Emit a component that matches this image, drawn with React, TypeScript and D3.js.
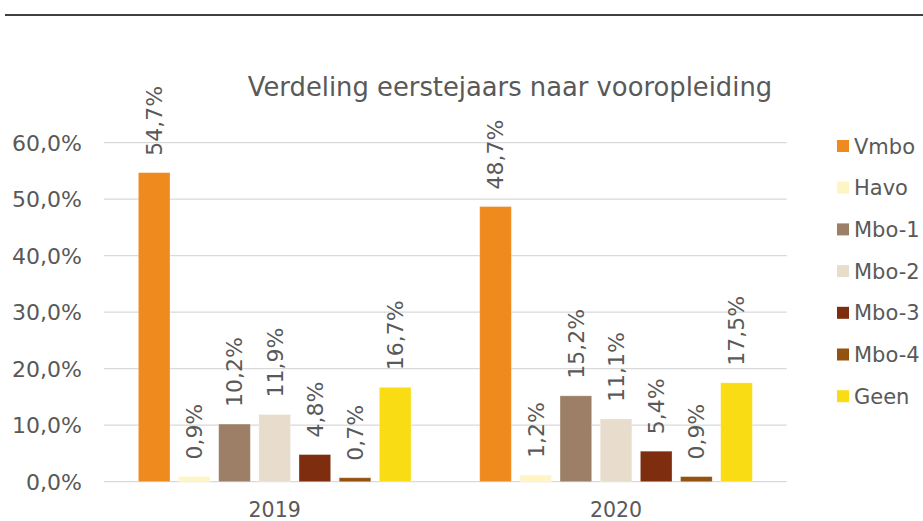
import React from "react";
import * as d3 from "d3";

const years = ["2019", "2020"];
const series = ["Vmbo", "Havo", "Mbo-1", "Mbo-2", "Mbo-3", "Mbo-4", "Geen"];
const colors = ["#EF8A1F", "#FFF5C4", "#9C7F66", "#E8DCCC", "#7E2E0F", "#93520F", "#F9DC14"];
const values2019 = [54.7, 0.9, 10.2, 11.9, 4.8, 0.7, 16.7];
const values2020 = [48.7, 1.2, 15.2, 11.1, 5.4, 0.9, 17.5];
const yTicks = [0, 10, 20, 30, 40, 50, 60];
const title = "Verdeling eerstejaars naar vooropleiding";

const W = 923;
const H = 521;
const FONT = "'DejaVu Sans', Verdana, sans-serif";
const TEXT = "#595959";

const fmt = (v: number) => v.toFixed(1).replace(".", ",") + "%";

export default function App() {
  const data = [values2019, values2020];
  const plotLeft = 104;
  const plotRight = 786.7;
  const y = d3.scaleLinear().domain([0, 60]).range([481.7, 142.7]);
  const x0 = d3.scaleBand<string>().domain(years).range([plotLeft, plotRight]).paddingInner(0).paddingOuter(0);
  const bw0 = x0.bandwidth();
  const innerPad = 30.1;
  const x1 = d3
    .scaleBand<string>()
    .domain(series)
    .range([innerPad, bw0 - innerPad])
    .paddingInner(0.212)
    .paddingOuter(0.106);

  return (
    <svg
      width={W}
      height={H}
      style={{ position: "absolute", left: 0, top: 0, background: "#fff" }}
      fontFamily={FONT}
    >
      <line x1={5} x2={W} y1={15} y2={15} stroke="#000" strokeWidth={1.3} />
      <text x={510} y={96} textAnchor="middle" fontSize={25.8} fill={TEXT}>
        {title}
      </text>
      {yTicks.map((t) => (
        <g key={t}>
          <line x1={plotLeft} x2={plotRight} y1={y(t)} y2={y(t)} stroke="#D9D9D9" strokeWidth={1.2} />
          <text x={82} y={y(t)} dy="0.36em" textAnchor="end" fontSize={22} fill={TEXT}>
            {fmt(t)}
          </text>
        </g>
      ))}
      {years.map((yr, gi) => (
        <g key={yr} transform={`translate(${x0(yr)},0)`}>
          {series.map((s, si) => {
            const v = data[gi][si];
            const bx = x1(s)!;
            const top = y(v);
            const cx = bx + x1.bandwidth() / 2;
            return (
              <g key={s}>
                <rect
                  x={bx}
                  y={top}
                  width={x1.bandwidth()}
                  height={y(0) - top}
                  fill={colors[si]}
                  stroke="#fff"
                  strokeOpacity={0.35}
                  strokeWidth={0.8}
                />
                <text
                  transform={`translate(${cx},${top - 17}) rotate(-90)`}
                  dy="0.36em"
                  textAnchor="start"
                  fontSize={22}
                  fill={TEXT}
                >
                  {fmt(v)}
                </text>
              </g>
            );
          })}
          <text x={bw0 / 2} y={517} textAnchor="middle" fontSize={20.5} fill={TEXT}>
            {yr}
          </text>
        </g>
      ))}
      {series.map((s, i) => {
        const ly = 146 + i * 41.7;
        return (
          <g key={s}>
            <rect x={837} y={ly - 6} width={12} height={12} fill={colors[i]} />
            <text x={854} y={ly} dy="0.36em" fontSize={21} fill={TEXT}>
              {s}
            </text>
          </g>
        );
      })}
    </svg>
  );
}
